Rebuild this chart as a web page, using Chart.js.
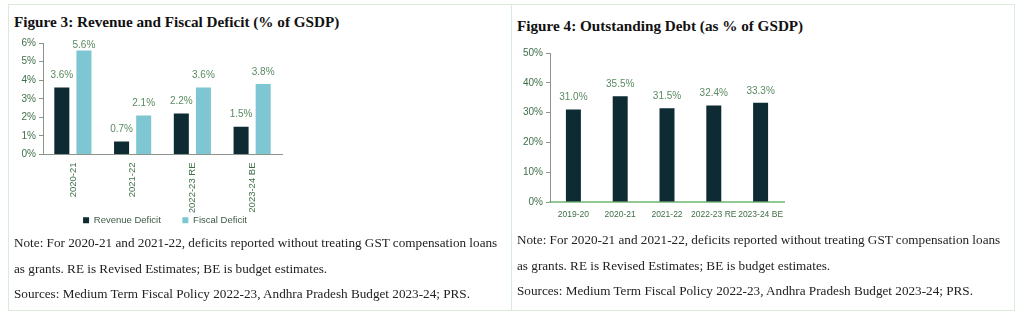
<!DOCTYPE html>
<html>
<head>
<meta charset="utf-8">
<script src="https://cdn.jsdelivr.net/npm/chart.js@4.4.0/dist/chart.umd.min.js"></script>
<style>
  body { margin: 0; background: #fff; width: 1024px; height: 321px; position: relative; overflow: hidden; }
  .panel { position: absolute; top: 4px; height: 307px; border: 1px solid #d9ecd9; box-sizing: border-box; }
  .title { position: absolute; font-family: 'Liberation Serif', 'Times New Roman', serif; font-weight: bold; font-size: 15.2px; color: #111; white-space: nowrap; }
  .note { position: absolute; font-family: 'Liberation Serif', 'Times New Roman', serif; font-size: 13.2px; color: #222; line-height: 25.5px; white-space: nowrap; }
  canvas { position: absolute; }
</style>
</head>
<body>
<div class="panel" style="left:8px; width:504px;"></div>
<div class="panel" style="left:511px; width:504px;"></div>

<div class="title" style="left:14px; top:13px;">Figure 3: Revenue and Fiscal Deficit (% of GSDP)</div>
<canvas id="chart_deficit" width="302" height="201" style="left:14px; top:34px;"></canvas>
<div class="note" style="left:14px; top:230px;">Note: For 2020-21 and 2021-22, deficits reported without treating GST compensation loans<br>as grants. RE is Revised Estimates; BE is budget estimates.<br>Sources: Medium Term Fiscal Policy 2022-23, Andhra Pradesh Budget 2023-24; PRS.</div>

<div class="title" style="left:517px; top:17px;">Figure 4: Outstanding Debt (as % of GSDP)</div>
<canvas id="chart_debt" width="280" height="180" style="left:517px; top:44px;"></canvas>
<div class="note" style="left:517px; top:227px;">Note: For 2020-21 and 2021-22, deficits reported without treating GST compensation loans<br>as grants. RE is Revised Estimates; BE is budget estimates.<br>Sources: Medium Term Fiscal Policy 2022-23, Andhra Pradesh Budget 2023-24; PRS.</div>

<script>
const deficitYears = ['2020-21', '2021-22', '2022-23 RE', '2023-24 BE'];
const revenueDeficit = [3.6, 0.7, 2.2, 1.5];
const fiscalDeficit = [5.6, 2.1, 3.6, 3.8];
const deficitTicks = [0, 1, 2, 3, 4, 5, 6];

const debtYears = ['2019-20', '2020-21', '2021-22', '2022-23 RE', '2023-24 BE'];
const outstandingDebt = [31.0, 35.5, 31.5, 32.4, 33.3];
const debtTicks = [0, 10, 20, 30, 40, 50];

const sansFont = "'Liberation Sans', Arial, sans-serif";
const darkBar = '#0e2a33';
const lightBar = '#7dc6d2';
const tickColor = '#3f6e47';
const labelColor = '#5a8a60';
const axisColor = '#8a948a';

// value labels above each bar
const barLabels = {
    id: 'barLabels',
    afterDatasetsDraw(chart, args, opts) {
        const ctx = chart.ctx;
        ctx.save();
        ctx.font = '10px ' + sansFont;
        ctx.fillStyle = labelColor;
        ctx.textAlign = 'center';
        ctx.textBaseline = 'middle';
        chart.data.datasets.forEach((ds, i) => {
            chart.getDatasetMeta(i).data.forEach((bar, j) => {
                const y = Math.max(bar.y - opts.offset, chart.chartArea.top + 2);
                ctx.fillText(ds.data[j].toFixed(1) + '%', bar.x, y);
            });
        });
        ctx.restore();
    }
};

// centre the legend under the plot instead of the whole box
const legendShift = {
    id: 'legendShift',
    afterLayout(chart) {
        if (chart.legend) {
            chart.legend.left += 17;
            chart.legend.right += 17;
        }
    }
};

function yAxis(ticks, width) {
    return {
        min: ticks[0],
        max: ticks[ticks.length - 1],
        afterBuildTicks: scale => { scale.ticks = ticks.map(v => ({ value: v })); },
        afterFit: scale => { scale.width = width; },
        ticks: { color: tickColor, font: { family: sansFont, size: 10 }, padding: 3, callback: v => v + '%' },
        grid: { drawOnChartArea: false, drawTicks: true, tickLength: 4, color: axisColor },
        border: { color: axisColor }
    };
}

new Chart(document.getElementById('chart_deficit'), {
    type: 'bar',
    data: {
        labels: deficitYears,
        datasets: [{
            label: 'Revenue Deficit',
            data: revenueDeficit,
            backgroundColor: darkBar
        }, {
            label: 'Fiscal Deficit',
            data: fiscalDeficit,
            backgroundColor: lightBar
        }]
    },
    options: {
        responsive: false,
        animation: false,
        categoryPercentage: 0.74,
        barPercentage: 0.68,
        layout: { padding: { top: 8, right: 34, bottom: 0, left: 0 } },
        scales: {
            x: {
                afterFit: scale => { scale.height = 58; },
                ticks: { color: tickColor, font: { family: sansFont, size: 9.5 }, autoSkip: false, minRotation: 90, maxRotation: 90, padding: 0 },
                grid: { display: false },
                border: { color: axisColor }
            },
            y: yAxis(deficitTicks, 29)
        },
        plugins: {
            legend: {
                position: 'bottom',
                labels: {
                    boxWidth: 6, boxHeight: 6, padding: 3, color: '#3d5a45',
                    font: { family: sansFont, size: 9.5 },
                    generateLabels: chart => {
                        const items = Chart.defaults.plugins.legend.labels.generateLabels(chart);
                        items[0].text += '       ';
                        return items;
                    }
                }
            },
            tooltip: { enabled: false },
            barLabels: { offset: 12 }
        }
    },
    plugins: [barLabels, legendShift]
});

new Chart(document.getElementById('chart_debt'), {
    type: 'bar',
    data: {
        labels: debtYears,
        datasets: [{
            label: 'Outstanding Debt',
            data: outstandingDebt,
            backgroundColor: darkBar
        }]
    },
    options: {
        responsive: false,
        animation: false,
        categoryPercentage: 0.8,
        barPercentage: 0.4,
        layout: { padding: { top: 8, right: 13, bottom: 0, left: 0 } },
        scales: {
            x: {
                afterFit: scale => { scale.height = 22; },
                ticks: { color: tickColor, font: { family: sansFont, size: 8.5 }, autoSkip: false, maxRotation: 0, minRotation: 0, padding: 0 },
                grid: { display: false },
                border: { color: '#92c892', width: 2 }
            },
            y: yAxis(debtTicks, 33)
        },
        plugins: {
            legend: { display: false },
            tooltip: { enabled: false },
            barLabels: { offset: 12 }
        }
    },
    plugins: [barLabels]
});
</script>
</body>
</html>
